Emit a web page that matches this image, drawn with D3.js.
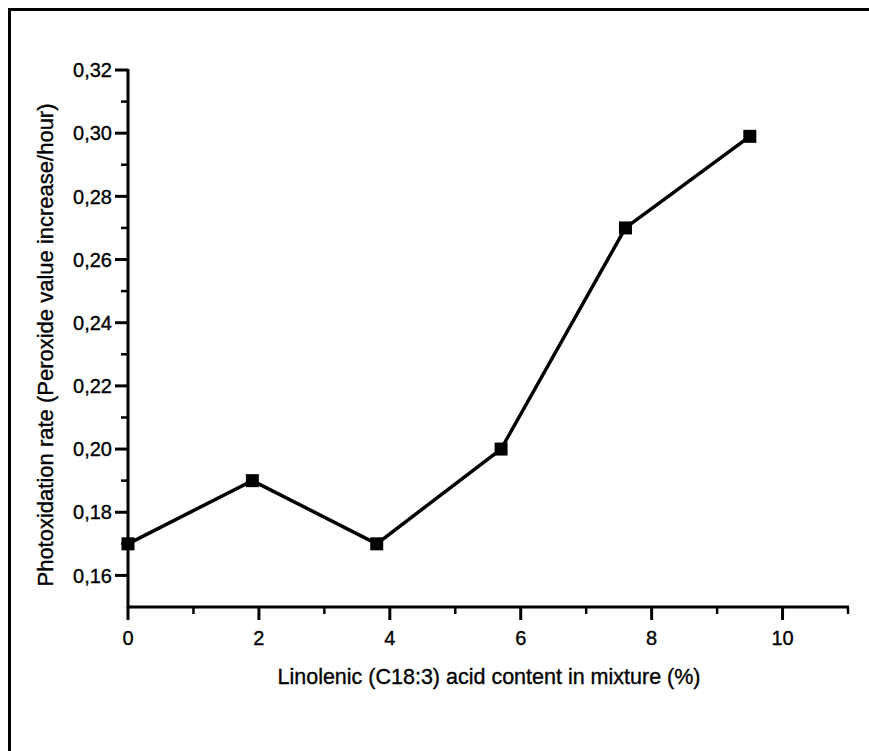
<!DOCTYPE html>
<html>
<head>
<meta charset="utf-8">
<script src="https://cdn.jsdelivr.net/npm/d3@7"></script>
<style>
  body { margin: 0; background: #fff; }
  svg text { font-family: "Liberation Sans", Arial, sans-serif; fill: #000; stroke: #000; stroke-width: 0.35; }
</style>
</head>
<body>
<svg id="chart" width="869" height="751"></svg>
<script>
// values
var linolenic = [0, 1.9, 3.8, 5.7, 7.6, 9.5];
var rate = [0.170, 0.190, 0.170, 0.200, 0.270, 0.299];
var xTicks = [0, 2, 4, 6, 8, 10];
var yTicks = [0.16, 0.18, 0.20, 0.22, 0.24, 0.26, 0.28, 0.30, 0.32];

var svg = d3.select("#chart");

// page frame (only top + left show in the scan)
svg.append("path")
    .attr("d", "M9.5,751V9.5H869")
    .attr("fill", "none")
    .attr("stroke", "#000")
    .attr("stroke-width", 3);

var x = d3.scaleLinear().domain([0, 11]).range([128, 848]);
var y = d3.scaleLinear().domain([0.15, 0.32]).range([607, 70]);

function comma(d) { return d3.format(".2f")(d).replace(".", ","); }

// x axis
var xAxis = svg.append("g").attr("transform", "translate(0," + y(0.15) + ")");
xAxis.append("line")
    .attr("x1", x(0) - 1).attr("x2", x(11) + 1)
    .attr("stroke", "#000").attr("stroke-width", 3);
xAxis.selectAll(".minor")
    .data(d3.range(1, 12, 2))
    .enter().append("line")
    .attr("x1", function(d) { return x(d); })
    .attr("x2", function(d) { return x(d); })
    .attr("y1", 0).attr("y2", 7)
    .attr("stroke", "#000").attr("stroke-width", 2.5);
xAxis.selectAll(".major")
    .data(xTicks)
    .enter().append("line")
    .attr("x1", function(d) { return x(d); })
    .attr("x2", function(d) { return x(d); })
    .attr("y1", 0).attr("y2", 13)
    .attr("stroke", "#000").attr("stroke-width", 3);
xAxis.selectAll("text")
    .data(xTicks)
    .enter().append("text")
    .attr("x", function(d) { return x(d); })
    .attr("y", 38)
    .attr("text-anchor", "middle")
    .attr("font-size", 20)
    .text(function(d) { return d; });

// y axis
var yAxis = svg.append("g").attr("transform", "translate(" + x(0) + ",0)");
yAxis.append("line")
    .attr("y1", y(0.15) + 1).attr("y2", y(0.32) - 1)
    .attr("stroke", "#000").attr("stroke-width", 3);
yAxis.selectAll(".minor")
    .data(d3.range(0.17, 0.32, 0.02))
    .enter().append("line")
    .attr("y1", function(d) { return y(d); })
    .attr("y2", function(d) { return y(d); })
    .attr("x1", 0).attr("x2", -7)
    .attr("stroke", "#000").attr("stroke-width", 2.5);
yAxis.selectAll(".major")
    .data(yTicks)
    .enter().append("line")
    .attr("y1", function(d) { return y(d); })
    .attr("y2", function(d) { return y(d); })
    .attr("x1", 0).attr("x2", -13)
    .attr("stroke", "#000").attr("stroke-width", 3);
yAxis.selectAll("text")
    .data(yTicks)
    .enter().append("text")
    .attr("x", -16)
    .attr("y", function(d) { return y(d); })
    .attr("dy", "0.36em")
    .attr("text-anchor", "end")
    .attr("font-size", 20)
    .text(comma);

// axis titles
svg.append("text")
    .attr("x", 489).attr("y", 684)
    .attr("text-anchor", "middle")
    .attr("font-size", 21.5)
    .text("Linolenic (C18:3) acid content in mixture (%)");

svg.append("text")
    .attr("transform", "translate(53," + 345 + ") rotate(-90)")
    .attr("text-anchor", "middle")
    .attr("font-size", 22)
    .text("Photoxidation rate (Peroxide value increase/hour)");

// series
var pts = linolenic.map(function(v, i) { return [v, rate[i]]; });
var line = d3.line()
    .x(function(d) { return x(d[0]); })
    .y(function(d) { return y(d[1]); });

svg.append("path")
    .datum(pts)
    .attr("d", line)
    .attr("fill", "none")
    .attr("stroke", "#000")
    .attr("stroke-width", 3.5);

svg.selectAll(".pt")
    .data(pts)
    .enter().append("rect")
    .attr("class", "pt")
    .attr("x", function(d) { return x(d[0]) - 6.5; })
    .attr("y", function(d) { return y(d[1]) - 6.5; })
    .attr("width", 13).attr("height", 13)
    .attr("fill", "#000");
</script>
</body>
</html>
